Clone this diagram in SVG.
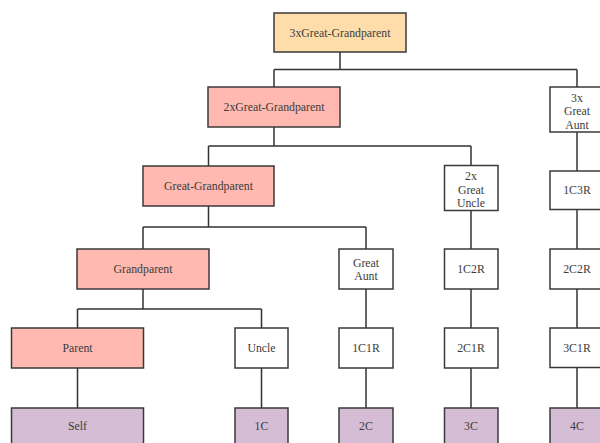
<svg xmlns="http://www.w3.org/2000/svg" width="600" height="443" viewBox="0 0 600 443">
<style>
rect{stroke:#3a3a3a;stroke-width:1.5}
.w{fill:#ffffff}
.o{fill:#ffddaa}
.p{fill:#ffb9b0}
.v{fill:#d5bed5}
text{font-family:"Liberation Serif","DejaVu Serif",serif;font-size:11.8px;fill:#3c3c3c;text-anchor:middle;dominant-baseline:central}
#connectors path{fill:none;stroke:#333;stroke-width:1.5}
</style>
<rect x="0" y="0" width="600" height="443" fill="#fff" style="stroke:none"/>
<g id="connectors">
<path d="M340 52V69.5M274 69.5H577M274 69.5V87M577 69.5V87"/>
<path d="M274 127V146M208.5 146H471M208.5 146V166M471 146V165"/>
<path d="M577 132V171"/>
<path d="M208.5 206V227M143 227H366M143 227V249M366 227V249"/>
<path d="M471 210V249"/>
<path d="M577 209V249"/>
<path d="M143 289V309M77.5 309H261.5M77.5 309V328M261.5 309V328"/>
<path d="M366 289V328M471 289V328M577 289V328"/>
<path d="M77.5 368V408M261.5 368V408M366 368V408M471 368V408M577 368V408"/>
</g>
<g id="n3xgg"><rect class="o" x="274" y="13" width="132" height="39"/><text x="340" y="32.5">3xGreat-Grandparent</text></g>
<g id="n2xgg"><rect class="p" x="208" y="87" width="132" height="40"/><text x="274" y="107">2xGreat-Grandparent</text></g>
<g id="n3xga"><rect class="w" x="550" y="87" width="54" height="45"/><text x="577" y="97.5">3x</text><text x="577" y="111">Great</text><text x="577" y="124.5">Aunt</text></g>
<g id="ngg"><rect class="p" x="143" y="166" width="131" height="40"/><text x="208.5" y="186">Great-Grandparent</text></g>
<g id="n2xgu"><rect class="w" x="444.5" y="165.5" width="53.5" height="45"/><text x="471" y="176">2x</text><text x="471" y="189.5">Great</text><text x="471" y="203">Uncle</text></g>
<g id="n1c3r"><rect class="w" x="550" y="171" width="54" height="38.5"/><text x="577" y="190">1C3R</text></g>
<g id="ngp"><rect class="p" x="77" y="249" width="132" height="40"/><text x="143" y="269">Grandparent</text></g>
<g id="nga"><rect class="w" x="339" y="249" width="54" height="40"/><text x="366" y="262.5">Great</text><text x="366" y="275.5">Aunt</text></g>
<g id="n1c2r"><rect class="w" x="444.5" y="249" width="53.5" height="40"/><text x="471" y="269">1C2R</text></g>
<g id="n2c2r"><rect class="w" x="550" y="249" width="54" height="40"/><text x="577" y="269">2C2R</text></g>
<g id="nparent"><rect class="p" x="11.5" y="328" width="132" height="40"/><text x="77.5" y="348">Parent</text></g>
<g id="nuncle"><rect class="w" x="235" y="328" width="53" height="40"/><text x="261.5" y="348">Uncle</text></g>
<g id="n1c1r"><rect class="w" x="339" y="328" width="54" height="40"/><text x="366" y="348">1C1R</text></g>
<g id="n2c1r"><rect class="w" x="444.5" y="328" width="53.5" height="40"/><text x="471" y="348">2C1R</text></g>
<g id="n3c1r"><rect class="w" x="550" y="328" width="54" height="39.5"/><text x="577" y="348">3C1R</text></g>
<g id="nself"><rect class="v" x="11.5" y="408" width="132" height="42"/><text x="77.5" y="426">Self</text></g>
<g id="n1c"><rect class="v" x="235" y="408" width="53" height="42"/><text x="261.5" y="426">1C</text></g>
<g id="n2c"><rect class="v" x="339" y="408" width="54" height="42"/><text x="366" y="426">2C</text></g>
<g id="n3c"><rect class="v" x="444.5" y="408" width="53.5" height="42"/><text x="471" y="426">3C</text></g>
<g id="n4c"><rect class="v" x="550" y="408" width="54" height="42"/><text x="577" y="426">4C</text></g>
</svg>
